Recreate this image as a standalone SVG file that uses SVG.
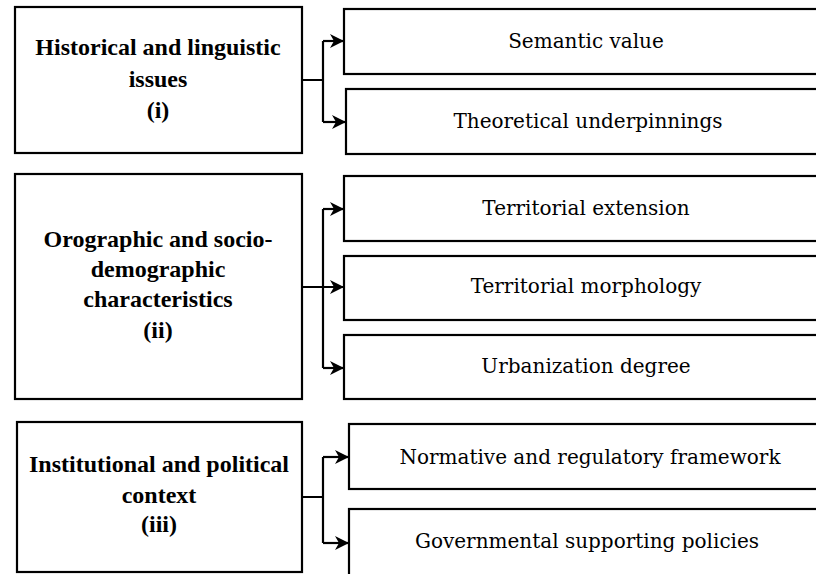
<svg xmlns="http://www.w3.org/2000/svg" width="816" height="574" viewBox="0 0 816 574">
<style>
.box{fill:#fff;stroke:#000;stroke-width:2.2}
.lt{font-family:"Liberation Serif","Times New Roman",serif;font-weight:bold;font-size:24px;text-anchor:middle;fill:#000}
.rt{font-family:"DejaVu Serif",serif;font-size:20px;text-anchor:middle;fill:#000}
.c{fill:none;stroke:#000;stroke-width:2.2}
.a{fill:none;stroke:#000;stroke-width:2.2;marker-end:url(#arr)}
</style>
<defs>
<marker id="arr" markerUnits="userSpaceOnUse" markerWidth="16" markerHeight="16" refX="15" refY="8" orient="auto">
<path d="M1,1 L15,8 L1,15 L5,8 z" fill="#000"/>
</marker>
</defs>
<rect width="816" height="574" fill="#fff"/>
<g id="n1">
<rect class="box" x="15" y="7" width="287" height="146"/>
<text class="lt" x="158" y="55">Historical and linguistic</text>
<text class="lt" x="158" y="87">issues</text>
<text class="lt" x="158" y="118">(i)</text>
</g>
<g id="n1a">
<rect class="box" x="344" y="9" width="490" height="65"/>
<text class="rt" x="586" y="48">Semantic value</text>
</g>
<g id="n1b">
<rect class="box" x="346" y="89" width="490" height="65"/>
<text class="rt" x="588" y="128">Theoretical underpinnings</text>
</g>
<g id="n2">
<rect class="box" x="15" y="174" width="287" height="225"/>
<text class="lt" x="158" y="247">Orographic and socio-</text>
<text class="lt" x="158" y="277">demographic</text>
<text class="lt" x="158" y="307">characteristics</text>
<text class="lt" x="158" y="338">(ii)</text>
</g>
<g id="n2a">
<rect class="box" x="344" y="176" width="490" height="65"/>
<text class="rt" x="586" y="215">Territorial extension</text>
</g>
<g id="n2b">
<rect class="box" x="344" y="256" width="490" height="64"/>
<text class="rt" x="586" y="293">Territorial morphology</text>
</g>
<g id="n2c">
<rect class="box" x="344" y="335" width="490" height="64"/>
<text class="rt" x="586" y="373">Urbanization degree</text>
</g>
<g id="n3">
<rect class="box" x="17" y="422" width="285" height="150"/>
<text class="lt" x="159" y="472">Institutional and political</text>
<text class="lt" x="159" y="503">context</text>
<text class="lt" x="159" y="532">(iii)</text>
</g>
<g id="n3a">
<rect class="box" x="349" y="424" width="490" height="65"/>
<text class="rt" x="590" y="464">Normative and regulatory framework</text>
</g>
<g id="n3b">
<rect class="box" x="349" y="509" width="490" height="80"/>
<text class="rt" x="587" y="548">Governmental supporting policies</text>
</g>
<g id="connectors">
<path class="c" d="M302,80 H323 M323,41 V122"/>
<path class="a" d="M323,41 H344"/>
<path class="a" d="M323,122 H346"/>
<path class="c" d="M323,209 V368"/>
<path class="a" d="M302,287 H344"/>
<path class="a" d="M323,209 H344"/>
<path class="a" d="M323,368 H344"/>
<path class="c" d="M302,497 H323 M323,457 V543"/>
<path class="a" d="M323,457 H349"/>
<path class="a" d="M323,543 H349"/>
</g>
</svg>
